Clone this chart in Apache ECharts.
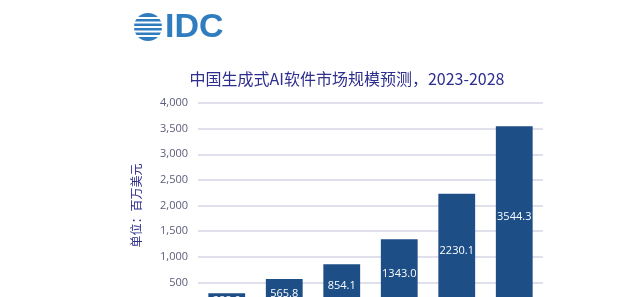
<!DOCTYPE html>
<html>
<head>
<meta charset="utf-8">
<script src="https://cdn.jsdelivr.net/npm/echarts@6/dist/echarts.min.js"></script>
<style>
  html, body { margin: 0; padding: 0; background: #fff; }
  #chart { width: 640px; height: 297px; }
</style>
</head>
<body>
<div id="chart"></div>
<script>
const years = ["2023", "2024", "2025", "2026", "2027", "2028"];
const marketSize = [288, 565.8, 854.1, 1343.0, 2230.1, 3544.3];
const yTicks = [0, 500, 1000, 1500, 2000, 2500, 3000, 3500, 4000];

const chart = echarts.init(document.getElementById("chart"));

// brand colors
const barBlue = "#1d4e86";
const indigo = "#2e2e8e";
const tickGrey = "#5c5c7c";
const logoBlue = "#2f7dbf";

// globe stripes for the logo
const stripes = [-9, -4.5, 0, 4.5, 9].map((dy) => ({
  type: "rect",
  shape: { x: 132, y: 27 + dy - 1, width: 34, height: 2 },
  style: { fill: "#fff" },
}));

const option = {
  backgroundColor: "#fff",
  title: {
    text: "中国生成式AI软件市场规模预测，2023-2028",
    left: 342,
    textAlign: "center",
    top: 66,
    textStyle: {
      color: indigo,
      fontSize: 16,
      fontWeight: "normal",
      fontFamily: "Noto Sans CJK SC",
    },
  },
  graphic: [
    { type: "circle", shape: { cx: 148, cy: 27, r: 14 }, style: { fill: logoBlue } },
    ...stripes,
    {
      type: "text",
      left: 165,
      top: 11,
      style: {
        text: "IDC",
        fill: logoBlue,
        font: "bold 34px 'Liberation Sans', Arial, sans-serif",
      },
    },
  ],
  // plot runs past the bottom edge like the cropped original
  grid: { left: 198, right: 97, top: 103, bottom: -11, outerBoundsMode: "none" },
  xAxis: {
    type: "category",
    data: years,
    axisLine: { show: false },
    axisTick: { show: false },
    axisLabel: { show: false },
  },
  yAxis: {
    type: "value",
    min: yTicks[0],
    max: yTicks[yTicks.length - 1],
    interval: 500,
    name: "单位：百万美元",
    nameLocation: "middle",
    nameRotate: 90,
    nameGap: 56,
    nameTextStyle: {
      color: indigo,
      fontSize: 12,
      fontFamily: "Noto Sans CJK SC",
    },
    axisLabel: {
      color: tickGrey,
      fontSize: 11,
      margin: 10,
      fontFamily: "Open Sans",
      formatter: (v) => v.toLocaleString("en-US"),
    },
    axisLine: { show: false },
    axisTick: { show: false },
    splitLine: { lineStyle: { color: "#d6d6e6", width: 1.5 } },
  },
  series: [
    {
      name: "市场规模",
      type: "bar",
      data: marketSize,
      barWidth: "64%",
      itemStyle: { color: barBlue },
      label: {
        show: true,
        position: "inside",
        color: "#fff",
        fontSize: 11,
        fontFamily: "Open Sans",
        formatter: (p) => p.value.toFixed(1),
      },
    },
  ],
};

chart.setOption(option);
</script>
</body>
</html>
